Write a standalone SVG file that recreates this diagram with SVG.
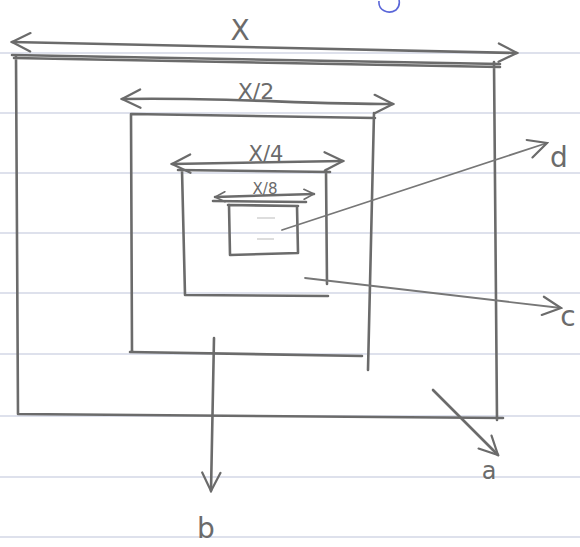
<svg xmlns="http://www.w3.org/2000/svg" width="580" height="547" viewBox="0 0 580 547">
<defs>
<style>
.paper{stroke:#d4d7e6;stroke-width:1.5;fill:none}
.pen{stroke:#6b6b6b;stroke-width:2.6;fill:none;stroke-linecap:round;stroke-linejoin:round}
.thin{stroke:#777;stroke-width:1.8;fill:none;stroke-linecap:round}
.faint{stroke:#d2d2d2;stroke-width:1.5;fill:none}
.lbl{font-family:"DejaVu Sans","Liberation Sans",sans-serif;fill:#6b6b6b;text-anchor:middle}
</style>
<marker id="ah" viewBox="0 0 12 12" refX="11" refY="6" markerWidth="12" markerHeight="12" markerUnits="userSpaceOnUse" orient="auto-start-reverse">
<path d="M1,1 L11,6 L1,11" fill="none" stroke="#6b6b6b" stroke-width="1.6" stroke-linecap="round"/>
</marker>
<marker id="ahb" viewBox="0 0 12 12" refX="11" refY="6" markerWidth="22" markerHeight="22" markerUnits="userSpaceOnUse" orient="auto-start-reverse">
<path d="M1,1 L11,6 L1,11" fill="none" stroke="#6b6b6b" stroke-width="1.2" stroke-linecap="round"/>
</marker>
</defs>
<rect width="580" height="547" fill="#ffffff"/>
<g id="paper">
<path class="paper" d="M0,53 H580 M0,113 H580 M0,173 H580 M0,233 H580 M0,293 H580 M0,354 H580 M0,416 H580 M0,477 H580 M0,537 H580"/>
<path d="M379,1 C378,10 388,15 396,10 C399,7 400,4 399,0" stroke="#5a66d8" stroke-width="1.6" fill="none"/>
</g>
<g id="box-x">
<path class="pen" d="M12,55 L500,64 M14,58 L500,67 M16,57 L18,414 M494,62 L497,420 M18,414 L503,418"/>
<path class="pen" d="M12,42 C150,44 300,49 517,53" marker-start="url(#ahb)" marker-end="url(#ahb)"/>
<text class="lbl" x="240" y="40" font-size="28">X</text>
</g>
<g id="box-x2">
<path class="pen" d="M132,114 L375,118 M131,114 L132,352 M374,113 L368,370 M130,352 L362,356"/>
<path class="pen" d="M122,99 C220,97 300,104 393,104" marker-start="url(#ahb)" marker-end="url(#ahb)"/>
<text class="lbl" x="256" y="99" font-size="22">X/2</text>
</g>
<g id="box-x4">
<path class="pen" d="M178,170 L330,172 M182,170 L185,295 M326,170 L327,284 M185,295 L328,296"/>
<path class="pen" d="M172,164 L343,161" marker-start="url(#ahb)" marker-end="url(#ahb)"/>
<text class="lbl" x="266" y="161" font-size="21">X/4</text>
</g>
<g id="box-x8">
<path class="pen" d="M213,201 L306,202 M228,205 L298,206 M229,205 L230,255 M297,206 L298,253 M230,255 L298,253"/>
<path class="pen" d="M215,197 L314,194" marker-start="url(#ah)" marker-end="url(#ah)"/>
<text class="lbl" x="265" y="194" font-size="15">X/8</text>
<path class="faint" d="M257,218 H275 M257,239 H274"/>
</g>
<g id="connectors">
<path class="thin" d="M282,230 L547,143" marker-end="url(#ahb)"/>
<path class="thin" d="M305,278 L561,308" marker-end="url(#ahb)"/>
<path class="pen" d="M214,338 L211,491" marker-end="url(#ahb)"/>
<path class="pen" d="M433,390 L498,455" marker-end="url(#ahb)"/>
</g>
<g id="labels">
<text class="lbl" x="559" y="167" font-size="28">d</text>
<text class="lbl" x="568" y="326" font-size="28">c</text>
<text class="lbl" x="206" y="538" font-size="28">b</text>
<text class="lbl" x="489" y="479" font-size="24">a</text>
</g>
</svg>
